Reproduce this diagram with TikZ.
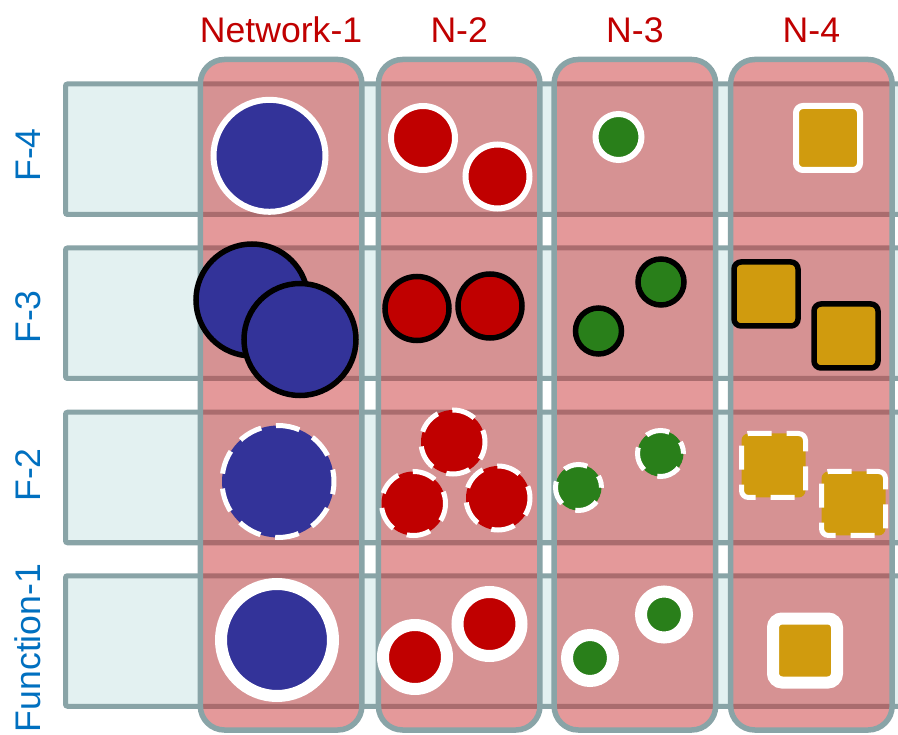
\documentclass[tikz,border=0pt]{standalone}
\usepackage{fontspec}
\setmainfont{Liberation Sans}

\definecolor{edgegray}{RGB}{137,164,167}
\definecolor{rowcyan}{RGB}{227,241,241}
\definecolor{colpink}{RGB}{203,53,55}
\definecolor{hdred}{RGB}{192,0,0}
\definecolor{sideblue}{RGB}{0,112,192}
\definecolor{dotblue}{RGB}{51,51,153}
\definecolor{dotred}{RGB}{192,0,0}
\definecolor{dotgreen}{RGB}{41,127,26}
\definecolor{dotgold}{RGB}{208,155,14}

\begin{document}
\begin{tikzpicture}[
  x=1pt, y=-1pt,
  every node/.style={inner sep=0pt, outer sep=0pt},
  rowbox/.style={draw=edgegray, line width=5pt, fill=rowcyan, rounded corners=2pt, minimum width=870pt, minimum height=130.5pt, anchor=west},
  colbox/.style={draw=edgegray, line width=5.5pt, fill=colpink, fill opacity=0.5, rounded corners=24pt, minimum width=161.5pt, minimum height=670.5pt},
  hdlabel/.style={font=\fontsize{35.6}{40}\selectfont, text=hdred, anchor=base},
  sidelabel/.style={font=\fontsize{35.6}{40}\selectfont, text=sideblue, anchor=base, rotate=90},
  bluedot/.style={circle, fill=dotblue, minimum size=112pt},
  reddot/.style={circle, fill=dotred, minimum size=64pt},
  greendot/.style={circle, fill=dotgreen, minimum size=46pt},
  golddot/.style={rectangle, fill=dotgold, minimum width=64pt, minimum height=64pt, rounded corners=7pt},
  whitering/.style={draw=white, line width=6pt},
  blackring/.style={draw=black, line width=5.5pt},
  dashring/.style={draw=white, line width=5pt, dash pattern=on 24pt off 15pt, dash phase=12pt},
  halo/.style={draw=white, line width=12pt}
]
\useasboundingbox[fill=white] (0,0) rectangle (898,735);

% --- function rows ---
\node[rowbox] (f4) at (65.5,149.25) {};
\node[rowbox] (f3) at (65.5,313.25) {};
\node[rowbox] (f2) at (65.5,477.5) {};
\node[rowbox] (f1) at (65.5,641) {};

% --- network columns ---
\node[colbox] (n1) at (281.1,394.75) {};
\node[colbox] (n2) at (459.2,394.75) {};
\node[colbox] (n3) at (634.9,394.75) {};
\node[colbox] (n4) at (811.4,394.75) {};

% --- labels ---
\node[hdlabel] (h1) at (281.1,43) {Network-1};
\node[hdlabel] (h2) at (459.2,43) {N-2};
\node[hdlabel] (h3) at (634.9,43) {N-3};
\node[hdlabel] (h4) at (811.4,43) {N-4};
\node[sidelabel] (l4) at (41,155) {F-4};
\node[sidelabel] (l3) at (41,317) {F-3};
\node[sidelabel] (l2) at (41,475) {F-2};
\node[sidelabel] (l1) at (41,648) {Function-1};

% --- F-4: thin white outline ---
\node[bluedot, whitering] (b4)  at (269.5,155.8) {};
\node[reddot, whitering]  (r4a) at (423,138) {};
\node[reddot, whitering]  (r4b) at (497.5,176.5) {};
\node[greendot, whitering] (g4) at (618.5,137) {};
\node[golddot, whitering] (y4)  at (828,138) {};

% --- F-3: black outline ---
\node[bluedot, blackring] (b3a) at (252,300) {};
\node[bluedot, blackring] (b3b) at (300,339.5) {};
\node[reddot, blackring]  (r3a) at (417,308.5) {};
\node[reddot, blackring]  (r3b) at (490,306) {};
\node[greendot, blackring] (g3a) at (598.5,331) {};
\node[greendot, blackring] (g3b) at (661,282) {};
\node[golddot, blackring] (y3a) at (766,294) {};
\node[golddot, blackring] (y3b) at (846,336) {};

% --- F-2: dashed white outline ---
\node[bluedot, dashring] (b2)  at (278,481.5) {};
\node[reddot, dashring]  (r2a) at (453,442) {};
\node[reddot, dashring]  (r2b) at (413.5,503.5) {};
\node[reddot, dashring]  (r2c) at (498,498) {};
\node[greendot, dashring] (g2a) at (578.5,487.5) {};
\node[greendot, dashring] (g2b) at (660.5,453.5) {};
\node[golddot, dashring] (y2a) at (773.5,465.5) {};
\node[golddot, dashring] (y2b) at (853.5,503.5) {};

% --- Function-1: thick white halo ---
\node[bluedot, halo] (b1)  at (277,640) {};
\node[reddot, halo]  (r1a) at (415,657) {};
\node[reddot, halo]  (r1b) at (489.5,624) {};
\node[greendot, halo] (g1a) at (590,658) {};
\node[greendot, halo] (g1b) at (664,614.5) {};
\node[golddot, halo, rounded corners=9pt] (y1) at (805,650.5) {};
\end{tikzpicture}
\end{document}
